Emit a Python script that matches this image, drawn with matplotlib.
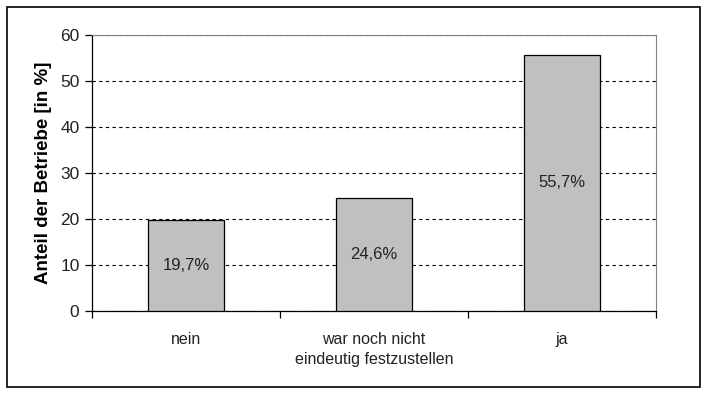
import matplotlib.pyplot as plt
import numpy as np
from matplotlib.patches import Rectangle

categories = ["nein", "war noch nicht\neindeutig festzustellen", "ja"]
values = [19.7, 24.6, 55.7]
value_labels = ["19,7%", "24,6%", "55,7%"]
y_ticks = [0, 10, 20, 30, 40, 50, 60]

plt.rcParams['font.family'] = ['Liberation Sans', 'DejaVu Sans']

fig = plt.figure(figsize=(7.07, 3.94), dpi=100)
ax = fig.add_axes([92 / 707, 1 - 311 / 394, 564 / 707, 276 / 394])

x = np.arange(len(categories))
ax.bar(x, values, width=0.4, color='#c0c0c0', edgecolor='black', linewidth=0.9, zorder=3)

for xi, v, lab in zip(x, values, value_labels):
    ax.text(xi, v / 2, lab, ha='center', va='center', fontsize=12, color='#222222', zorder=4)

ax.set_xlim(-0.5, len(categories) - 0.5)
ax.set_ylim(0, 60)
ax.set_yticks(y_ticks)
ax.set_yticklabels([str(t) for t in y_ticks], fontsize=12.5, color='#222222')
ax.yaxis.grid(True, linestyle=(0, (3, 3)), color='black', linewidth=0.8, zorder=0)
ax.set_axisbelow(True)

# ticks on category boundaries, labels centred
ax.set_xticks(np.arange(-0.5, len(categories), 1))
ax.set_xticklabels([])
ax.set_xticks(x, minor=True)
ax.set_xticklabels(categories, minor=True, fontsize=11.5, color='#222222', linespacing=1.45)
ax.tick_params(axis='x', which='minor', length=0, pad=15)
ax.tick_params(axis='x', which='major', length=5, direction='out', width=0.9)
ax.tick_params(axis='y', length=5, direction='out', width=0.9, pad=4)

ax.spines['top'].set_color('#808080')
ax.spines['right'].set_color('#808080')
ax.spines['left'].set_linewidth(0.9)
ax.spines['bottom'].set_linewidth(0.9)

ax.set_ylabel("Anteil der Betriebe [in %]", fontsize=13.5, fontweight='bold', labelpad=6)

fig.patches.append(Rectangle((7 / 707, 7 / 394), 693 / 707, 380 / 394, transform=fig.transFigure,
                             fill=False, edgecolor='black', linewidth=1.2))

fig.savefig("out.png", dpi=100)
